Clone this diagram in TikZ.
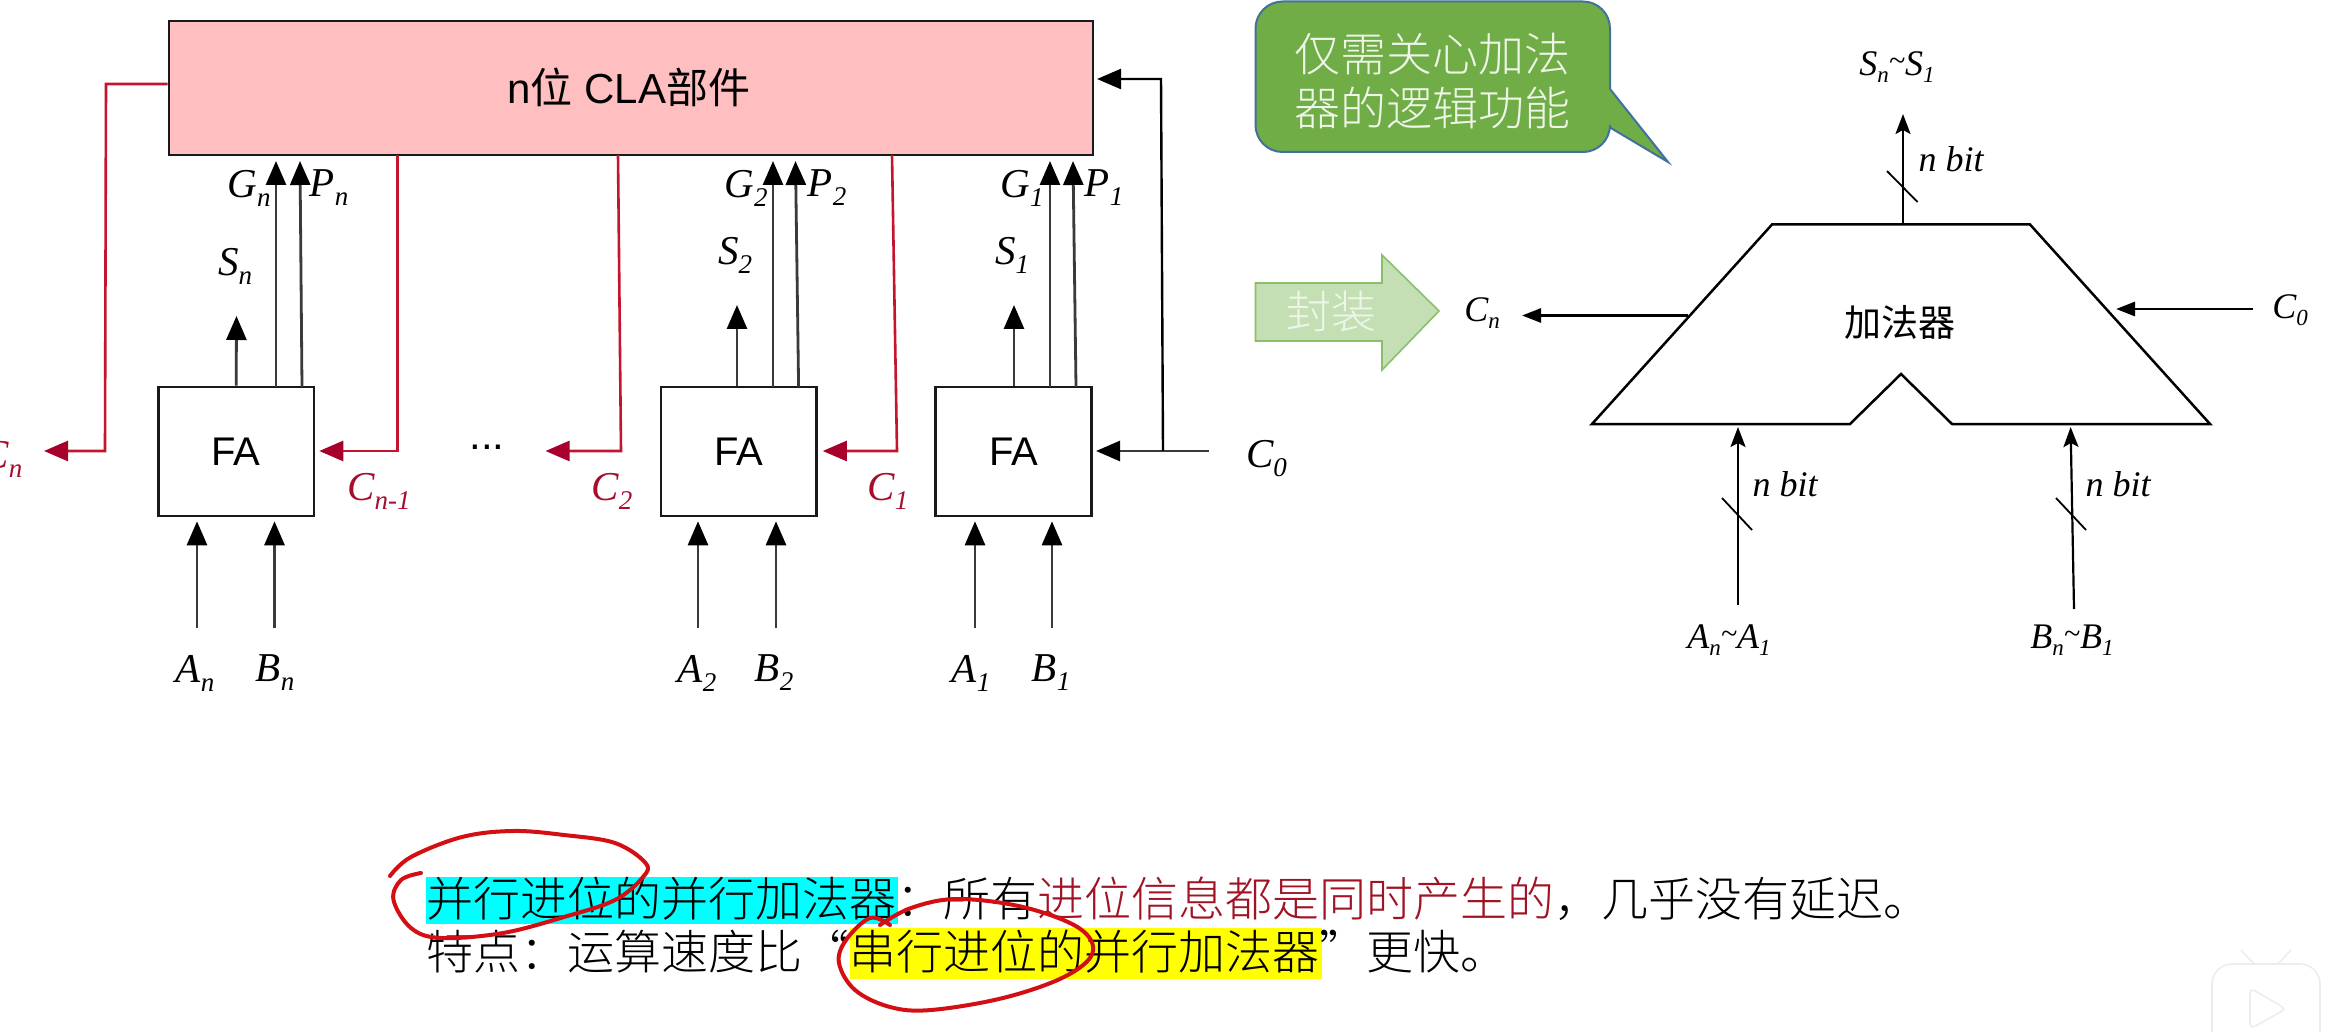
\documentclass[tikz,border=0pt]{standalone}
\usepackage{fontspec}
\usetikzlibrary{arrows.meta,calc}
\setmainfont{Liberation Sans}
\newfontfamily\cjk{Noto Sans CJK SC}
\newfontfamily\cjkl{Noto Sans CJK SC Light}
\newfontfamily\lsr{Liberation Serif}
\definecolor{redline}{HTML}{C4142F}
\definecolor{redtip}{HTML}{A8002C}
\definecolor{redtxt}{HTML}{A50F2D}
\definecolor{pinkfill}{HTML}{FFBEBF}
\definecolor{ink}{HTML}{3A3A3A}
\definecolor{calloutfill}{HTML}{70AD47}
\definecolor{calloutedge}{HTML}{41719C}
\definecolor{wrapfill}{HTML}{C5DFB5}
\definecolor{wrapedge}{HTML}{8CBF6B}
\definecolor{wraptxt}{HTML}{EEF6E8}
\definecolor{penred}{HTML}{D40F14}
\definecolor{bodyred}{HTML}{A11324}
\definecolor{hlcyan}{HTML}{00FFFF}
\definecolor{hlyellow}{HTML}{FFFF00}
\newcommand{\fsz}[1]{\fontsize{#1}{#1}\selectfont}
% large labels on the left circuit
\newcommand{\lab}[2]{{\lsr\itshape\fsz{41}#1\raisebox{-9pt}{\fsz{27}#2}}}
% smaller labels on the right symbol
\newcommand{\smb}[2]{{\lsr\itshape\fsz{36}#1\raisebox{-7pt}{\fsz{23}#2}}}
\tikzset{
  x=1pt,y=-1pt,
  arr/.style={draw=ink,line width=2.8pt,-{Triangle[length=24pt,width=20pt,fill=black,color=black]}},
  arrl/.style={draw=black,line width=2.2pt,-{Stealth[length=20pt,width=15pt,inset=4pt]}},
  redarr/.style={draw=redline,line width=2.6pt,line join=miter,-{Triangle[length=24pt,width=20pt,fill=redtip,color=redtip]}},
  fabox/.style={draw=black!90,line width=2.6pt,fill=white,minimum width=155.5pt,minimum height=129pt,inner sep=0pt,font=\fsz{40}},
  txt/.style={inner sep=0pt,outer sep=0pt},
  tick/.style={draw=black,line width=1.8pt},
  pen/.style={draw=penred,line width=4pt,line cap=round,line join=round},
  hl/.style={inner sep=0pt,outer sep=0pt,anchor=north west},
}
\begin{document}
\begin{tikzpicture}
\useasboundingbox (0,0) rectangle (2332,1032);
\clip (0,0) rectangle (2332,1032);
\fill[white] (0,0) rectangle (2332,1032);

% ---------- main blocks
\node[draw=black!90,line width=2.6pt,fill=pinkfill,minimum width=924pt,minimum height=134pt,inner sep=0pt] (cla) at (631,88) {};
\node[txt,font=\fsz{42}] (clatxt) at (629,87) {n{\cjk 位} CLA{\cjk 部件}};
\node[fabox] (fan) at (236.2,451.5) {FA};
\node[fabox] (fatwo) at (738.7,451.5) {FA};
\node[fabox] (faone) at (1013.5,451.5) {FA};

% ---------- labels on the left circuit
\node[txt] (Gn) at (249,188) {\lab{G}{n}};
\node[txt] (Pn) at (329,188) {\lab{P}{n}};
\node[txt] (Sn) at (235,266) {\lab{S}{n}};
\node[txt] (An) at (195,673) {\lab{A}{n}};
\node[txt] (Bn) at (275,673) {\lab{B}{n}};
\node[txt] (Gtwo) at (746,188) {\lab{G}{2}};
\node[txt] (Ptwo) at (827,188) {\lab{P}{2}};
\node[txt] (Stwo) at (735,255) {\lab{S}{2}};
\node[txt] (Atwo) at (697,673) {\lab{A}{2}};
\node[txt] (Btwo) at (774,673) {\lab{B}{2}};
\node[txt] (Gone) at (1022,188) {\lab{G}{1}};
\node[txt] (Pone) at (1104,188) {\lab{P}{1}};
\node[txt] (Sone) at (1012,255) {\lab{S}{1}};
\node[txt] (Aone) at (971,673) {\lab{A}{1}};
\node[txt] (Bone) at (1051,673) {\lab{B}{1}};
\node[txt] (Czero) at (1266.5,459) {\lab{C}{0}};
\node[txt,text=redtxt] (Cn) at (2,459) {\lab{C}{n}};
\node[txt,text=redtxt] (Cnm) at (379,491) {\lab{C}{n-1}};
\node[txt,text=redtxt] (Ctwo) at (612,491) {\lab{C}{2}};
\node[txt,text=redtxt] (Cone) at (888,491) {\lab{C}{1}};
\node[txt,font=\fsz{42}] (dots) at (487,447) {...};

% ---------- vertical signals, FA n
\coordinate (tSn) at (236.5,316);
\coordinate (bGn) at (276,387); \coordinate (tGn) at (276,161);
\coordinate (bPn) at (302,387); \coordinate (tPn) at (300,161);
\coordinate (iAn) at (197,628); \coordinate (iBn) at (274.5,628);
\draw[arr] (fan.north) -- (tSn);
\draw[arr] (bGn) -- (tGn);
\draw[arr] (bPn) -- (tPn);
\draw[arr,shorten >=4pt] (iAn) -- (iAn |- fan.south);
\draw[arr,shorten >=4pt] (iBn) -- (iBn |- fan.south);

% ---------- FA 2
\coordinate (tStwo) at (737,305);
\coordinate (bGtwo) at (773,387); \coordinate (tGtwo) at (773,161);
\coordinate (bPtwo) at (798.6,387); \coordinate (tPtwo) at (795.5,161);
\coordinate (iAtwo) at (698,628); \coordinate (iBtwo) at (776,628);
\draw[arr] (tStwo |- fatwo.north) -- (tStwo);
\draw[arr] (bGtwo) -- (tGtwo);
\draw[arr] (bPtwo) -- (tPtwo);
\draw[arr,shorten >=4pt] (iAtwo) -- (iAtwo |- fatwo.south);
\draw[arr,shorten >=4pt] (iBtwo) -- (iBtwo |- fatwo.south);

% ---------- FA 1
\coordinate (tSone) at (1014,305);
\coordinate (bGone) at (1050,387); \coordinate (tGone) at (1050,161);
\coordinate (bPone) at (1076,387); \coordinate (tPone) at (1073,161);
\coordinate (iAone) at (975,628); \coordinate (iBone) at (1052,628);
\draw[arr] (tSone |- faone.north) -- (tSone);
\draw[arr] (bGone) -- (tGone);
\draw[arr] (bPone) -- (tPone);
\draw[arr,shorten >=4pt] (iAone) -- (iAone |- faone.south);
\draw[arr,shorten >=4pt] (iBone) -- (iBone |- faone.south);

% ---------- carry C0
\coordinate (czs) at (1209,451);
\coordinate (czb) at (1163,451);
\coordinate (czt) at (1161,79);
\coordinate (czi) at (1097,79);
\draw[arr,shorten >=3.5pt] (czs) -- (faone.east |- czs);
\draw[draw=black,line width=2.4pt,-{Triangle[length=24pt,width=20pt,fill=black]}] (czb) -- (czt) -- (czi);

% ---------- red carries
\coordinate (rna) at (106,84);
\coordinate (rnb) at (105,451);
\coordinate (rnc) at (44,451);
\draw[redarr] (cla.west |- rna) -- (rna) -- (rnb) -- (rnc);
\coordinate (rma) at (397.5,155);
\coordinate (rmb) at (397.5,451);
\draw[redarr,shorten >=4pt] (rma) -- (rmb) -- (fan.east |- rmb);
\coordinate (rta) at (618,155);
\coordinate (rtb) at (621,451);
\coordinate (rtc) at (545.5,451);
\draw[redarr] (rta) -- (rtb) -- (rtc);
\coordinate (roa) at (892,155);
\coordinate (rob) at (897,451);
\draw[redarr,shorten >=5pt] (roa) -- (rob) -- (fatwo.east |- rob);

% ---------- callout
\draw[draw=calloutedge,line width=2pt,fill=calloutfill]
  (1610,89) -- (1668,162) -- (1610,127.5) [rounded corners=27pt] -- (1610,152) -- (1255.5,152) -- (1255.5,1.5) -- (1610,1.5) -- (1610,89);
\node[txt,font=\fsz{46}\cjkl,text=wraptxt,align=center] (calltxt) at (1432,81)
  {仅需关心加法\\[8pt]器的逻辑功能};

% ---------- wrap arrow
\draw[draw=wrapedge,line width=1.6pt,fill=wrapfill]
  (1255.5,283) -- (1382,283) -- (1382,255) -- (1439,311) -- (1382,370) -- (1382,341) -- (1255.5,341) -- cycle;
\node[txt,font=\fsz{45}\cjkl,text=wraptxt] (wraptx) at (1331,311) {封装};

% ---------- adder symbol
\draw[draw=black,line width=2.5pt,line join=miter,fill=white]
  (1772,224.5) -- (2030,224.5) -- (2210,424) -- (1952,424) -- (1901,374) -- (1850,424) -- (1592,424) -- cycle;
\node[txt,font=\fsz{37}\cjk] (adder) at (1900,322) {加法器};
\coordinate (aTop) at (1903,224.5);
\coordinate (aTopTip) at (1903,114);
\coordinate (aCn) at (1688,315.5);
\coordinate (aCnTip) at (1522,315.5);
\coordinate (aCz) at (2253,309);
\coordinate (aCzTip) at (2116,309);
\coordinate (aA) at (1738,605);
\coordinate (aATip) at (1738,427);
\coordinate (aB) at (2074,609);
\coordinate (aBTip) at (2070.6,427);
\draw[arrl] (aTop) -- (aTopTip);
\draw[arrl,line width=2.8pt,-{Triangle[length=19pt,width=14pt,fill=black]}] (aCn) -- (aCnTip);
\draw[arrl,line width=2.8pt,-{Triangle[length=19pt,width=14pt,fill=black]}] (aCz) -- (aCzTip);
\draw[arrl] (aA) -- (aATip);
\draw[arrl] (aB) -- (aBTip);
\draw[tick] (1887,171) -- (1917.5,202);
\draw[tick] (1722,498) -- (1752,530);
\draw[tick] (2056,498) -- (2086,530);
\node[txt] (nbA) at (1951,159) {\lsr\itshape\fsz{36}n bit};
\node[txt] (nbB) at (1785,484) {\lsr\itshape\fsz{36}n bit};
\node[txt] (nbC) at (2118,484) {\lsr\itshape\fsz{36}n bit};
\node[txt] (SS) at (1897,67) {\smb{S}{n}\raisebox{5pt}{\lsr\itshape\fsz{30}\char"007E}\smb{S}{1}};
\node[txt] (AA) at (1729,640) {\smb{A}{n}\raisebox{5pt}{\lsr\itshape\fsz{30}\char"007E}\smb{A}{1}};
\node[txt] (BB) at (2072,640) {\smb{B}{n}\raisebox{5pt}{\lsr\itshape\fsz{30}\char"007E}\smb{B}{1}};
\node[txt] (CnR) at (1482,313) {\smb{C}{n}};
\node[txt] (CzR) at (2290,310) {\smb{C}{0}};

% ---------- bottom text
\node[hl,fill=hlcyan,minimum width=471.5pt,minimum height=47pt] (hlA) at (426,877) {};
\node[hl,fill=hlyellow,minimum width=472pt,minimum height=51pt] (hlB) at (850,928) {};
\node[txt,anchor=west,font=\fsz{47}\cjkl] (lineA) at (426,899)
  {并行进位的并行加法器：所有\textcolor{bodyred}{进位信息都是同时产生的}，几乎没有延迟。};
\node[txt,anchor=west,font=\fsz{47}\cjkl] (lineB) at (426,952)
  {特点：运算速度比“串行进位的并行加法器”更快。};

% ---------- hand-drawn rings
\draw[pen] plot[smooth,tension=0.6] coordinates {(421,873) (401,880) (393.5,900) (411,928) (441,938) (503,933) (564,917) (615,900) (643,877) (645.5,863) (615,843) (564,835) (513,831) (462,837) (411,857) (390,876)};
\draw[pen] plot[smooth,tension=0.6] coordinates {(890,925) (870,918) (846,940) (839,963) (855,990) (890,1007) (931,1010) (1003,998) (1064,977) (1092.5,953) (1079,928) (1023,907) (957,899) (911,908) (880,925)};

% ---------- faint player badge, lower right
\begin{scope}[draw=black!7,fill=white,line width=1.6pt]
\draw (2255,965) -- (2241,950);
\draw (2277,965) -- (2291,950);
\filldraw (2212,1034) -- (2212,985) [rounded corners=20pt] -- (2212,964) -- (2320,964) -- (2320,1034);
\draw[rounded corners=5pt] (2250,988) -- (2286,1009) -- (2250,1029) -- cycle;
\end{scope}
\end{tikzpicture}
\end{document}
